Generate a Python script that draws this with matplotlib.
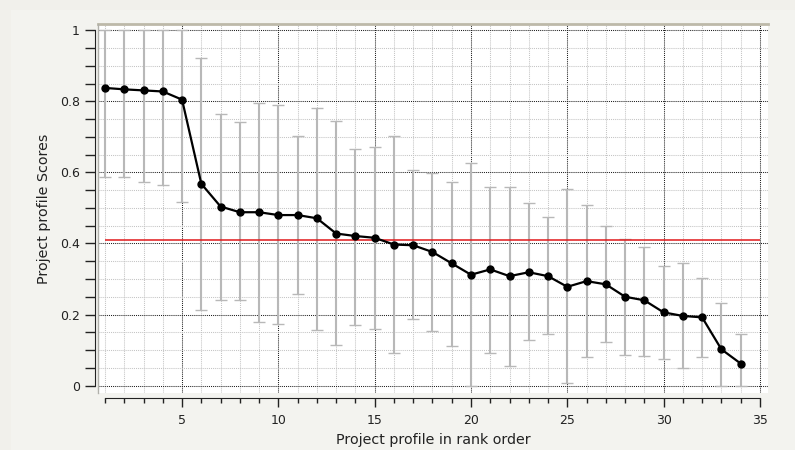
import numpy as np
import matplotlib
matplotlib.use('Agg')
import matplotlib.pyplot as plt
from matplotlib.ticker import MultipleLocator
from matplotlib.patches import Rectangle

# rank order of project profiles and their scores
rank = list(range(1, 35))
scores = [0.838, 0.834, 0.831, 0.828, 0.805, 0.568, 0.504, 0.488, 0.488, 0.480,
          0.480, 0.471, 0.428, 0.421, 0.416, 0.397, 0.395, 0.376, 0.344, 0.312,
          0.327, 0.308, 0.319, 0.308, 0.278, 0.294, 0.285, 0.250, 0.240, 0.206,
          0.196, 0.192, 0.102, 0.062]
upper = [1.0, 1.0, 1.0, 1.0, 1.0, 0.921, 0.765, 0.741, 0.796, 0.791,
         0.704, 0.781, 0.744, 0.666, 0.673, 0.704, 0.606, 0.598, 0.574, 0.628,
         0.560, 0.560, 0.514, 0.475, 0.554, 0.507, 0.449, 0.413, 0.391, 0.336,
         0.344, 0.303, 0.233, 0.146]
lower = [0.588, 0.586, 0.573, 0.564, 0.517, 0.212, 0.240, 0.240, 0.178, 0.173,
         0.257, 0.155, 0.113, 0.170, 0.160, 0.091, 0.186, 0.153, 0.110, 0.0,
         0.091, 0.055, 0.127, 0.146, 0.006, 0.081, 0.123, 0.087, 0.084, 0.076,
         0.048, 0.081, 0.0, 0.0]
threshold = 0.411

x_ticks = [5, 10, 15, 20, 25, 30, 35]
y_ticks = [0, 0.2, 0.4, 0.6, 0.8, 1]
y_labels = ['0', '0.2', '0.4', '0.6', '0.8', '1']

scores = np.array(scores)
err = [scores - np.array(lower), np.array(upper) - scores]

fig = plt.figure(figsize=(7.95, 4.5), dpi=100, facecolor='#f1f0eb')
fig.patches.append(Rectangle((11 / 795, 0), 1, 1 - 10 / 450, transform=fig.transFigure,
                             facecolor='#f3f3ef', edgecolor='none', zorder=-5))
ax = fig.add_axes([98 / 795, 57 / 450, 670 / 795, 369 / 450])
ax.set_facecolor('white')

# error bars first, then the line with markers on top
ax.errorbar(rank, scores, yerr=err, fmt='none', ecolor='#b8b8b8', elinewidth=1.5,
            capsize=4, capthick=1, zorder=2)
ax.plot(rank, scores, color='black', lw=1.6, marker='o', markersize=5, zorder=3)
ax.hlines(threshold, 1, 35, color='#e0191b', lw=1.1, zorder=2.5)

ax.set_xlim(0.636, 35.42)
ax.set_ylim(-0.021, 1.018)

ax.xaxis.set_major_locator(MultipleLocator(5))
ax.xaxis.set_minor_locator(MultipleLocator(1))
ax.yaxis.set_minor_locator(MultipleLocator(0.05))
ax.set_xticks(x_ticks)
ax.set_yticks(y_ticks)
ax.set_yticklabels(y_labels)

ax.grid(which='major', color='#202020', linestyle=(0, (1, 1)), lw=0.75, zorder=0)
ax.grid(which='minor', color='#c4c4c4', linestyle=(0, (1, 1)), lw=0.75, zorder=0)
ax.set_axisbelow(True)

# detached axis lines like the original
for side in ['top', 'right']:
    ax.spines[side].set_visible(False)
ax.spines['left'].set_position(('outward', 2.2))
ax.spines['bottom'].set_position(('outward', 3.8))
ax.spines['left'].set_bounds(0, 1)
ax.spines['bottom'].set_bounds(1, 35)
ax.spines['left'].set_color('#222222')
ax.spines['bottom'].set_color('#222222')

ax.tick_params(axis='x', which='major', length=6.5, width=1, color='#222222',
               labelsize=9, pad=5, labelcolor='#222222')
ax.tick_params(axis='x', which='minor', length=3.3, width=1, color='#222222')
ax.tick_params(axis='y', which='major', length=7, width=1, color='#222222',
               labelsize=9, pad=4, labelcolor='#222222')
ax.tick_params(axis='y', which='minor', length=7, width=1, color='#222222')

# sunken frame of the plot area
ax.plot([0, 1], [1, 1], transform=ax.transAxes, color='#bdb9a9', lw=2, clip_on=False, zorder=5)
ax.plot([0, 0], [0, 1], transform=ax.transAxes, color='#b0b0aa', lw=1, clip_on=False, zorder=5)

ax.set_xlabel('Project profile in rank order', fontsize=10.3, color='#222222', labelpad=4)
ax.set_ylabel('Project profile Scores', fontsize=10.3, color='#222222', labelpad=6)

fig.savefig('out.png', dpi=100, facecolor=fig.get_facecolor())
